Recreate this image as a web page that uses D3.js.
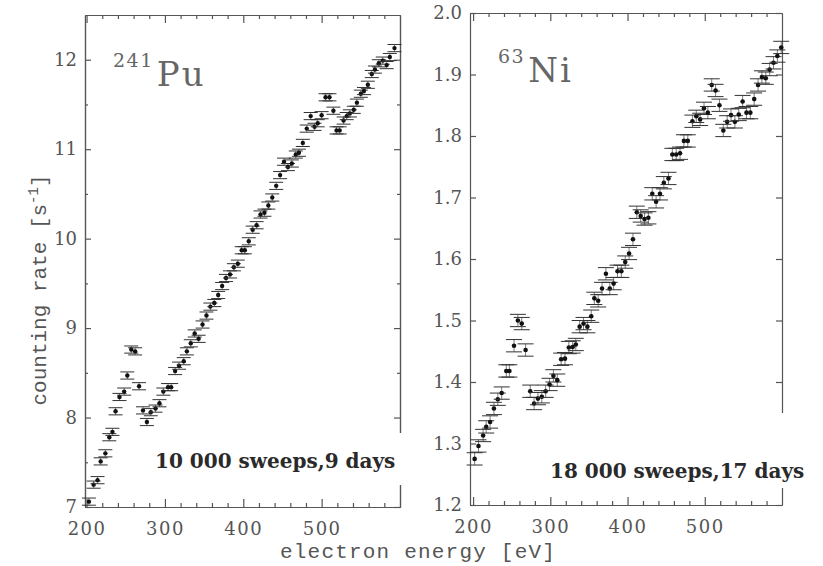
<!DOCTYPE html>
<html>
<head>
<meta charset="utf-8">
<script src="https://cdn.jsdelivr.net/npm/d3@7"></script>
<style>
body { margin: 0; background: #fff; }
svg { display: block; }
</style>
</head>
<body>
<div id="chart"></div>
<script>
// 241Pu spectrum (left panel)
const puEnergy = [203,209,214,218,224,229,233,237,242,248,252,257,262,267,272,277,282,288,293,298,
                  304,308,313,318,324,328,333,338,343,348,353,358,363,368,373,378,383,388,393,398,
                  402,407,412,417,422,427,432,437,442,447,452,457,462,467,471,476,481,486,491,495,
                  500,505,510,515,519,523,528,532,536,541,545,550,554,559,564,568,573,578,583,587,593];
const puRate = [7.06,7.25,7.30,7.51,7.60,7.78,7.84,8.07,8.23,8.29,8.47,8.76,8.74,8.35,8.08,7.95,8.06,8.10,8.16,8.29,
                8.34,8.34,8.52,8.58,8.63,8.74,8.83,8.94,8.88,9.04,9.14,9.24,9.28,9.37,9.47,9.56,9.60,9.68,9.72,9.87,
                9.87,9.97,10.10,10.15,10.27,10.29,10.37,10.46,10.59,10.71,10.86,10.80,10.84,10.94,10.96,11.07,11.23,11.37,11.25,11.29,
                11.38,11.58,11.58,11.43,11.21,11.21,11.32,11.37,11.40,11.44,11.52,11.62,11.65,11.72,11.84,11.89,11.96,11.99,11.94,12.03,12.13];
const puErr = 0.04;

// 63Ni spectrum (right panel)
const niEnergy = [202,207,213,217,222,227,232,237,243,247,253,258,263,268,274,279,284,289,294,299,
                  304,309,314,319,324,329,333,338,343,348,353,357,362,367,372,377,382,387,392,397,
                  402,407,412,417,422,427,432,437,442,447,453,458,463,468,473,478,484,489,494,499,
                  504,509,514,519,524,529,534,539,544,549,554,559,564,569,574,579,584,589,594,599];
const niRate = [1.275,1.296,1.313,1.327,1.335,1.357,1.372,1.382,1.418,1.418,1.459,1.500,1.495,1.452,1.385,1.365,1.373,1.376,1.385,1.396,
                1.410,1.403,1.437,1.438,1.456,1.457,1.461,1.490,1.495,1.490,1.507,1.536,1.532,1.552,1.576,1.552,1.560,1.580,1.580,1.595,
                1.609,1.632,1.676,1.670,1.665,1.667,1.706,1.693,1.706,1.724,1.731,1.770,1.770,1.772,1.792,1.792,1.824,1.832,1.827,1.845,
                1.838,1.883,1.874,1.850,1.809,1.823,1.834,1.823,1.835,1.856,1.838,1.838,1.860,1.883,1.896,1.894,1.908,1.919,1.930,1.944];
const niErr = 0.01;

const xTickLabels = [200, 300, 400, 500];
const puTickLabels = [7, 8, 9, 10, 11, 12];
const niTickLabels = [1.2, 1.3, 1.4, 1.5, 1.6, 1.7, 1.8, 1.9, 2.0];

const w = 823;
const h = 566;
const frameColor = "#555";
const textColor = "#555";

const svg = d3.select("#chart")
              .append("svg")
              .attr("width", w)
              .attr("height", h);

function drawPanel(p) {
  const xScale = d3.scaleLinear().domain(p.xDomain).range([p.left, p.right]);
  const yScale = d3.scaleLinear().domain(p.yDomain).range([p.bottom, p.top]);
  const g = svg.append("g");

  const minorX = d3.range(200, 600, 20).filter(v => v % 100 !== 0);

  // bottom axis: minor + major ticks pointing inward
  g.append("g")
   .attr("transform", "translate(0," + p.bottom + ")")
   .call(d3.axisBottom(xScale).tickValues(minorX).tickSize(-4).tickSizeOuter(0).tickFormat(""));
  g.append("g")
   .attr("class", "xlab")
   .attr("transform", "translate(0," + p.bottom + ")")
   .call(d3.axisBottom(xScale).tickValues(xTickLabels).tickSize(-8).tickSizeOuter(0).tickPadding(15));
  // top axis
  g.append("g")
   .attr("transform", "translate(0," + p.top + ")")
   .call(d3.axisTop(xScale).tickValues(minorX).tickSize(-4).tickSizeOuter(0).tickFormat(""));
  g.append("g")
   .attr("transform", "translate(0," + p.top + ")")
   .call(d3.axisTop(xScale).tickValues(xTickLabels).tickSize(-8).tickSizeOuter(0).tickFormat(""));
  // left axis
  g.append("g")
   .attr("class", "ylab")
   .attr("transform", "translate(" + p.left + ",0)")
   .call(d3.axisLeft(yScale).tickValues(p.yTicks).tickSize(-6).tickSizeOuter(0).tickPadding(8).tickFormat(p.yFormat));
  if (p.yMinor.length) {
    g.append("g")
     .attr("transform", "translate(" + p.left + ",0)")
     .call(d3.axisLeft(yScale).tickValues(p.yMinor).tickSize(-3).tickSizeOuter(0).tickFormat(""));
  }
  // right axis
  g.append("g")
   .attr("transform", "translate(" + p.right + ",0)")
   .call(d3.axisRight(yScale).tickValues(p.yTicks).tickSize(-6).tickSizeOuter(0).tickFormat(""));
  if (p.yMinor.length) {
    g.append("g")
     .attr("transform", "translate(" + p.right + ",0)")
     .call(d3.axisRight(yScale).tickValues(p.yMinor).tickSize(-3).tickSizeOuter(0).tickFormat(""));
  }

  g.selectAll("path.domain, .tick line")
   .attr("stroke", frameColor)
   .attr("stroke-width", 1.2);
  g.selectAll(".tick text")
   .attr("fill", textColor)
   .style("font-family", "'DejaVu Serif', serif")
   .style("font-size", "18px");
  g.selectAll(".xlab .tick text").style("letter-spacing", "1.5px");

  // data points with error bars
  const pts = p.energy.map((e, i) => ({ e: e, v: p.rate[i] }));
  const cap = p.capWidth / 2;
  const marks = g.selectAll("g.pt")
                 .data(pts)
                 .enter()
                 .append("g")
                 .attr("class", "pt");
  marks.append("line")
       .attr("x1", d => xScale(d.e)).attr("x2", d => xScale(d.e))
       .attr("y1", d => yScale(d.v - p.err)).attr("y2", d => yScale(d.v + p.err))
       .attr("stroke", "#444").attr("stroke-width", 0.7);
  marks.append("line")
       .attr("x1", d => xScale(d.e) - cap).attr("x2", d => xScale(d.e) + cap)
       .attr("y1", d => yScale(d.v + p.err)).attr("y2", d => yScale(d.v + p.err))
       .attr("stroke", "#333").attr("stroke-width", 1);
  marks.append("line")
       .attr("x1", d => xScale(d.e) - cap).attr("x2", d => xScale(d.e) + cap)
       .attr("y1", d => yScale(d.v - p.err)).attr("y2", d => yScale(d.v - p.err))
       .attr("stroke", "#333").attr("stroke-width", 1);
  marks.append("circle")
       .attr("cx", d => xScale(d.e))
       .attr("cy", d => yScale(d.v))
       .attr("r", p.dot)
       .attr("fill", "#111");

  // white box behind the sweeps note (it breaks the right frame)
  g.append("rect")
   .attr("x", p.note.x - 5).attr("y", p.note.boxTop)
   .attr("width", p.note.boxW).attr("height", p.note.boxBottom - p.note.boxTop)
   .attr("fill", "#fff");
  g.append("text")
   .attr("x", p.note.x).attr("y", p.note.y)
   .attr("fill", "#2a2a2a")
   .style("font-family", "'DejaVu Serif', serif")
   .style("font-weight", "bold")
   .style("font-size", "20px")
   .text(p.note.text);

  // isotope label
  const lab = g.append("text")
               .attr("fill", "#666")
               .style("font-family", "'DejaVu Serif', serif");
  lab.append("tspan")
     .attr("x", p.iso.x).attr("y", p.iso.y - 19)
     .style("font-size", "19px")
     .style("letter-spacing", "1.5px")
     .text(p.iso.mass);
  lab.append("tspan")
     .attr("y", p.iso.y)
     .attr("dx", 3)
     .style("font-size", "34px")
     .style("letter-spacing", "2px")
     .text(p.iso.name);
}

drawPanel({
  left: 85, right: 400, top: 15, bottom: 507,
  xDomain: [198, 600], yDomain: [7, 12.5],
  yTicks: puTickLabels, yMinor: d3.range(7.5, 12.5, 1), yFormat: d3.format("d"),
  energy: puEnergy, rate: puRate, err: puErr, capWidth: 14, dot: 2.2,
  note: { text: "10 000 sweeps,9 days", x: 155, y: 468, boxTop: 433, boxBottom: 485, boxW: 262 },
  iso: { mass: "241", name: "Pu", x: 113, y: 86 }
});

drawPanel({
  left: 470, right: 782, top: 13, bottom: 505,
  xDomain: [196, 600], yDomain: [1.2, 2.0],
  yTicks: niTickLabels, yMinor: [], yFormat: d3.format(".1f"),
  energy: niEnergy, rate: niRate, err: niErr, capWidth: 16, dot: 2.3,
  note: { text: "18 000 sweeps,17 days", x: 550, y: 478, boxTop: 413, boxBottom: 488, boxW: 272 },
  iso: { mass: "63", name: "Ni", x: 498, y: 82 }
});

// shared axis titles
svg.append("text")
   .attr("x", 280).attr("y", 558)
   .attr("fill", textColor)
   .style("font-family", "'Liberation Mono', monospace")
   .style("font-size", "21px")
   .style("letter-spacing", "1.2px")
   .text("electron energy [eV]");

const yTitle = svg.append("text")
   .attr("transform", "translate(46,290) rotate(-90)")
   .attr("text-anchor", "middle")
   .attr("fill", textColor)
   .style("font-family", "'Liberation Mono', monospace")
   .style("font-size", "21px");
yTitle.append("tspan").text("counting rate [s");
yTitle.append("tspan").attr("dy", -8).style("font-size", "14px").text("-1");
yTitle.append("tspan").attr("dy", 8).text("]");
</script>
</body>
</html>
